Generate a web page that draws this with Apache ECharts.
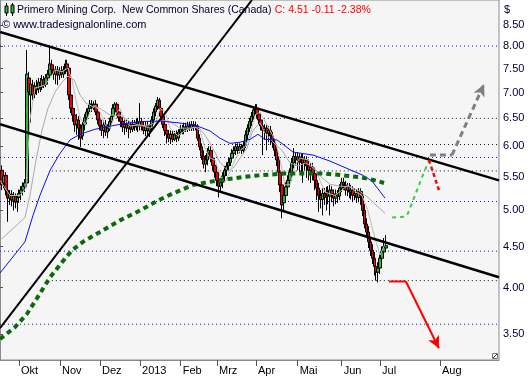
<!DOCTYPE html>
<html><head><meta charset="utf-8">
<script src="https://cdn.jsdelivr.net/npm/echarts@6/dist/echarts.min.js"></script>
<style>html,body{margin:0;padding:0;background:#fff}#c{width:529px;height:380px}</style>
</head><body><div id="c"></div>
<script>
// ---- data (prices in $) ----
const opens = [5.60,5.40,5.52,5.29,5.17,5.23,5.14,5.20,5.12,5.18,
5.24,5.29,5.34,5.40,7.30,6.95,7.15,6.97,7.13,7.07,
7.21,7.11,7.26,7.17,7.30,7.36,7.58,7.47,7.38,7.47,
7.36,7.45,7.38,7.47,7.60,7.51,6.95,6.69,6.56,6.39,
6.47,6.32,6.18,6.38,6.51,6.62,6.69,6.77,6.71,6.77,
6.62,6.47,6.36,6.28,6.38,6.25,6.32,6.44,6.54,6.69,
6.77,6.62,6.51,6.44,6.34,6.39,6.32,6.38,6.30,6.39,
6.34,6.42,6.36,6.44,6.36,6.28,6.36,6.27,6.32,6.47,
6.62,6.73,6.85,6.69,6.54,6.39,6.28,6.21,6.14,6.21,
6.12,6.20,6.14,6.25,6.30,6.27,6.34,6.30,6.36,6.32,
6.38,6.34,6.36,6.14,5.99,5.83,5.70,5.77,5.88,5.93,
5.80,5.68,5.57,5.44,5.35,5.41,5.51,5.60,5.67,5.73,
5.80,5.88,5.93,5.99,5.93,5.99,5.93,6.02,6.20,6.32,
6.44,6.54,6.66,6.69,6.58,6.47,6.36,6.28,6.32,6.23,
6.28,6.18,6.07,5.93,5.77,5.57,5.37,5.10,5.21,5.34,
5.44,5.57,5.72,5.82,5.77,5.82,5.73,5.80,5.72,5.77,
5.67,5.60,5.65,5.55,5.44,5.32,5.21,5.15,5.24,5.18,
5.26,5.20,5.29,5.23,5.17,5.23,5.20,5.32,5.41,5.37,
5.29,5.34,5.26,5.29,5.21,5.24,5.18,5.27,5.20,4.99,
4.80,4.69,4.56,4.45,4.35,4.25,4.18,4.23,4.35,4.43,
4.48];
const closes = [5.37,5.51,5.29,5.17,5.23,5.14,5.20,5.11,5.18,5.24,
5.29,5.35,5.40,7.38,7.01,7.17,6.95,7.13,7.05,7.21,
7.09,7.26,7.15,7.30,7.38,7.60,7.47,7.38,7.47,7.36,
7.45,7.38,7.47,7.60,7.51,6.95,6.69,6.56,6.38,6.47,
6.32,6.14,6.38,6.51,6.62,6.69,6.77,6.71,6.77,6.62,
6.47,6.36,6.28,6.38,6.25,6.32,6.44,6.54,6.69,6.77,
6.62,6.51,6.44,6.34,6.39,6.32,6.38,6.30,6.39,6.34,
6.42,6.36,6.44,6.36,6.28,6.36,6.27,6.32,6.47,6.62,
6.73,6.85,6.69,6.54,6.39,6.28,6.21,6.14,6.21,6.12,
6.20,6.14,6.25,6.30,6.27,6.34,6.30,6.36,6.32,6.38,
6.34,6.36,6.14,5.99,5.83,5.70,5.77,5.88,5.93,5.80,
5.68,5.57,5.44,5.35,5.41,5.51,5.60,5.67,5.73,5.80,
5.88,5.93,5.99,5.93,5.99,5.93,6.02,6.20,6.32,6.44,
6.54,6.66,6.69,6.58,6.47,6.36,6.28,6.32,6.23,6.28,
6.18,6.07,5.93,5.77,5.57,5.37,5.07,5.21,5.34,5.44,
5.57,5.72,5.83,5.77,5.82,5.73,5.80,5.72,5.77,5.67,
5.60,5.65,5.55,5.44,5.32,5.21,5.15,5.24,5.18,5.26,
5.20,5.29,5.23,5.17,5.23,5.20,5.32,5.41,5.37,5.29,
5.34,5.26,5.29,5.21,5.24,5.18,5.27,5.20,4.99,4.80,
4.69,4.56,4.45,4.35,4.25,4.18,4.23,4.35,4.43,4.50,
4.51];
const lows = [5.29,5.32,5.21,4.83,5.07,5.05,4.99,5.02,4.97,5.10,
5.14,5.21,5.26,5.35,6.89,6.42,6.85,6.89,6.95,6.99,
7.01,7.05,7.09,7.11,7.21,7.30,7.34,7.26,7.17,7.15,
7.26,7.30,7.30,7.38,7.43,6.85,6.60,6.44,6.25,6.20,
6.11,5.99,6.11,6.28,6.39,6.54,6.62,6.62,6.66,6.56,
6.39,6.28,6.18,6.14,6.18,6.14,6.27,6.39,6.47,6.62,
6.54,6.44,6.34,6.25,6.20,6.25,6.14,6.23,6.25,6.27,
6.28,6.25,6.28,6.28,6.21,6.18,6.20,6.16,6.25,6.39,
6.54,6.66,6.62,6.47,6.32,6.18,6.05,6.07,6.04,6.07,
6.09,6.07,6.09,6.20,6.21,6.21,6.25,6.25,6.27,6.27,
6.27,6.28,6.09,5.93,5.77,5.63,5.57,5.68,5.80,5.73,
5.60,5.48,5.35,5.18,5.26,5.32,5.41,5.51,5.60,5.67,
5.73,5.80,5.85,5.87,5.88,5.87,5.88,5.97,6.11,6.25,
6.36,6.47,6.58,6.51,6.39,6.28,5.85,6.11,5.93,6.07,
6.02,5.97,5.83,5.67,5.48,5.26,4.88,4.99,5.14,5.26,
5.35,5.51,5.63,5.67,5.60,5.57,5.52,5.40,5.60,5.48,
5.44,5.40,5.44,5.29,5.14,4.97,5.02,4.92,5.07,4.99,
5.08,4.92,5.11,5.05,5.08,5.10,5.14,5.26,5.29,5.21,
5.20,5.17,5.15,5.11,5.14,5.10,5.11,5.07,4.91,4.74,
4.61,4.48,4.38,4.28,4.14,4.08,4.06,4.16,4.30,4.35,
4.43];
const highs = [5.68,5.57,5.57,5.35,5.29,5.29,5.26,5.24,5.23,5.30,
5.35,5.41,5.46,7.91,7.43,7.26,7.26,7.21,7.26,7.30,
7.30,7.36,7.34,7.38,7.47,8.02,7.69,7.55,7.55,7.55,
7.53,7.55,7.55,7.69,7.69,7.55,7.01,6.77,6.66,6.58,
6.54,6.39,6.44,6.58,6.69,6.77,6.85,6.85,6.83,6.85,
6.69,6.54,6.44,6.47,6.47,6.39,6.51,6.60,6.77,6.81,
6.81,6.69,6.60,6.52,6.49,6.47,6.45,6.44,6.47,6.47,
6.49,6.51,6.79,6.51,6.45,6.44,6.44,6.39,6.54,6.69,
6.79,6.91,6.89,6.77,6.62,6.47,6.36,6.28,6.28,6.28,
6.27,6.28,6.30,6.38,6.38,6.42,6.42,6.44,6.44,6.45,
6.45,6.44,6.39,6.21,6.05,5.93,5.85,5.97,6.00,6.00,
5.87,5.77,5.67,5.51,5.48,5.57,5.67,5.73,5.80,5.87,
5.95,6.00,6.05,6.05,6.05,6.04,6.09,6.28,6.39,6.51,
6.62,6.73,6.77,6.77,6.66,6.54,6.44,6.39,6.39,6.36,
6.36,6.25,6.14,6.00,5.83,5.63,5.44,5.29,5.41,5.52,
5.63,5.80,5.97,5.90,5.90,5.88,5.87,5.87,5.83,5.83,
5.73,5.72,5.72,5.63,5.52,5.40,5.29,5.32,5.32,5.34,
5.35,5.37,5.35,5.30,5.30,5.29,5.38,5.48,5.48,5.43,
5.40,5.40,5.37,5.35,5.32,5.30,5.32,5.32,5.26,5.08,
4.88,4.77,4.63,4.53,4.43,4.30,4.30,4.40,4.50,4.61,
4.65];

// moving averages: [bar position, price]
const maFast = [[0,5.44],[5.2,5.21],[10.4,5.21],[13.5,5.32],[15.6,6.47],[18.2,7.09],[23.4,7.15],[26.1,7.30],[28.7,7.47],[32.3,7.43],[35.4,7.51],[37.5,7.26],[39.6,6.85],[41.7,6.51],[44.3,6.38],[46.9,6.62],[49.5,6.75],[52.1,6.62],[54.7,6.38],[57.3,6.32],[59.9,6.56],[62.5,6.69],[65.1,6.47],[67.7,6.36],[72.9,6.38],[78.2,6.32],[80.8,6.36],[83.4,6.69],[86.0,6.62],[88.6,6.32],[92.7,6.18],[96.4,6.28],[101.6,6.34],[104.2,6.28],[106.8,5.97],[109.4,5.80],[112.0,5.77],[114.6,5.52],[117.2,5.41],[119.8,5.57],[122.4,5.77],[125.1,5.93],[127.7,5.99],[130.3,6.20],[132.9,6.56],[135.5,6.62],[138.1,6.44],[140.7,6.28],[143.3,6.11],[145.9,5.77],[148.5,5.37],[151.1,5.37],[153.7,5.68],[156.3,5.80],[160.5,5.77],[164.1,5.63],[166.7,5.44],[169.3,5.26],[174.6,5.21],[178.2,5.29],[181.3,5.37],[185.5,5.26],[188.6,5.21],[191.7,4.99],[194.9,4.65],[198.0,4.39],[201.1,4.56]];
const maSlow = [[0,4.58],[13.0,4.89],[15.6,5.21],[18.8,5.77],[21.9,6.28],[25.0,6.69],[28.7,7.01],[32.3,7.21],[35.4,7.34],[38.6,7.26],[41.7,6.95],[44.8,6.79],[47.9,6.73],[52.1,6.69],[57.3,6.56],[62.5,6.56],[67.7,6.44],[72.9,6.36],[78.2,6.38],[83.4,6.47],[88.6,6.44],[93.8,6.32],[99.0,6.32],[103.2,6.34],[106.8,6.20],[110.5,5.99],[114.6,5.73],[118.8,5.59],[121.9,5.65],[125.1,5.80],[128.7,5.97],[131.8,6.28],[135.5,6.42],[138.1,6.23],[141.7,6.09],[146.9,5.93],[151.1,5.72],[155.3,5.67],[159.4,5.72],[163.6,5.63],[167.8,5.48],[171.9,5.38],[177.2,5.35],[182.4,5.34],[187.6,5.27],[191.7,5.18],[195.9,5.07],[200.6,4.95]];
const maBlue = [[0,4.17],[13.0,4.56],[17.2,4.92],[20.8,5.21],[26.1,5.60],[31.3,5.88],[36.5,6.11],[41.7,6.21],[49.5,6.30],[61.0,6.38],[72.9,6.44],[83.4,6.45],[92.2,6.42],[99.0,6.39],[104.2,6.34],[109.4,6.27],[114.6,6.14],[119.8,6.05],[125.1,6.07],[130.3,6.12],[134.4,6.21],[138.1,6.12],[144.3,6.11],[148.0,6.02],[152.7,5.90],[163.1,5.85],[171.9,5.75],[180.8,5.63],[189.1,5.52],[193.8,5.43],[198.0,5.27],[200.6,5.17]];
const maLong = [[0,3.45],[7.8,3.57],[14.1,3.71],[19.3,3.88],[26.1,4.12],[32.3,4.30],[37.5,4.45],[43.2,4.56],[52.1,4.69],[62.5,4.85],[72.9,4.99],[83.4,5.15],[90.1,5.24],[100.6,5.37],[113.6,5.44],[131.3,5.51],[148.5,5.55],[167.8,5.55],[178.7,5.52],[187.6,5.49],[195.4,5.44],[200.1,5.40]];

// trend lines and projections: [bar position, price]
const upperChannel = [[0,8.33],[260,5.44]];
const lowerChannel = [[0,6.39],[260,4.12]];
const steepLine = [[0,3.56],[131.3,9.13]];
const projGreen = [[204.3,4.89],[210.5,4.90],[212.1,4.92],[214.7,5.10],[217.3,5.29],[219.9,5.49],[222.5,5.68],[223.8,5.77]];
const projRed = [[223.5,5.77],[228.7,5.29]];
const projGrey = [[224.0,5.85],[235.5,5.85],[252.2,7.17]];
const projDown = [[202.7,4.07],[211.5,4.07],[228.7,3.36]];

// horizontal levels
const levels = [8.00, 6.50, 6.03, 5.81, 5.59, 5.12, 4.44, 4.08, 3.60];
const levelStart = [0, 27, 41.7, 0, 27, 0, 0, 27, 0];
const levelKind = ['b','k','k','b','k','b','b','k','b'];

// axis ticks
const yTicks = [3.5,4.0,4.5,5.0,5.5,6.0,6.5,7.0,7.5,8.0,8.5];
const monthLabels = ['Okt','Nov','Dez','2013','Feb','Mrz','Apr','Mai','Jun','Jul','Aug'];
const monthPos = [9.9,31.26,52.1,72.95,94.15,113.07,133.39,155.11,178.04,198.0,229.26];

const X_MAX = 260, P_MIN = 3.2487, P_MAX = 9.1297;
const L = Math.log;
const tr = arr => arr.map(p => [p[0], L(p[1])]);

const candleData = opens.map((o, i) => [i + 1, L(o), L(closes[i]), L(lows[i]), L(highs[i])]);

const series = [];
levels.forEach((lv, k) => {
  series.push({type:'line', data:[[levelStart[k], L(lv)], [X_MAX, L(lv)]], symbol:'none', silent:true, z:1,
    lineStyle:{color: levelKind[k]==='b' ? '#1515d8' : '#111', width:1, type:[1,3]}});
});
series.push({type:'candlestick', data:candleData, encode:{x:0, y:[1,2,3,4]}, barWidth:3, z:3,
  itemStyle:{color:'#2fb52f', color0:'#f00000', borderColor:'#000', borderColor0:'#000', borderWidth:1}});
const ln = (d, color, width, type, z) => ({type:'line', data:tr(d), symbol:'none', silent:true, z:z||4,
  lineStyle:{color, width, type: type||'solid'}});
series.push(ln(maSlow, '#a9a9a9', 1));
series.push(ln(maFast, '#bcbcbc', 1));
series.push(ln(maBlue, '#0a0aff', 1));
series.push(ln(maLong, '#0b6b0b', 4, [5,4], 5));
series.push(ln(upperChannel, '#000', 2.5, 'solid', 6));
series.push(ln(lowerChannel, '#000', 2.5, 'solid', 6));
series.push(ln(steepLine, '#000', 2, 'solid', 6));
series.push(ln(projGreen, '#3ccc3c', 2, [4,4], 7));
series.push(ln(projRed, '#ff0000', 2.5, [4,3], 7));
const arrowLine = (d, color, width, type) => ({
  type:'line', data:tr(d.slice(0, d.length - 1)), symbol:'none', silent:true, z:7,
  lineStyle:{color, width, type},
  markLine:{silent:true, symbol:['none','arrow'], symbolSize:[9,12], label:{show:false},
    lineStyle:{color, width, type}, emphasis:{disabled:true},
    data:[[{coord:[d[d.length-2][0], L(d[d.length-2][1])]},{coord:[d[d.length-1][0], L(d[d.length-1][1])]}]]}
});
series.push(arrowLine(projGrey, '#808080', 3, [6,4]));
series.push(arrowLine(projDown, '#ff0000', 2, 'solid'));

const chart = echarts.init(document.getElementById('c'), null, {renderer:'canvas'});
chart.setOption({
  animation:false,
  backgroundColor:'#ffffff',
  grid:{left:0, right:30, top:0, bottom:20, show:true, backgroundColor:'#f5f5f5', borderColor:'#8a8a8a', borderWidth:1, containLabel:false},
  xAxis:{type:'value', min:0, max:X_MAX, splitLine:{show:false},
    axisLine:{show:true, lineStyle:{color:'#8a8a8a'}},
    axisTick:{show:true, length:6, lineStyle:{color:'#555'}, customValues:monthPos},
    axisLabel:{customValues:monthPos, align:'left', margin:5, padding:[0,0,0,2], fontSize:11, fontFamily:'Liberation Sans', color:'#000',
      formatter:v => { let k = 0, best = 1e9; monthPos.forEach((m, j) => { const d = Math.abs(m - v); if (d < best) { best = d; k = j; } }); return monthLabels[k]; }}},
  yAxis:{type:'value', position:'right', min:L(P_MIN), max:L(P_MAX), splitLine:{show:false},
    axisLine:{show:true, lineStyle:{color:'#8a8a8a'}},
    axisTick:{show:true, length:3, lineStyle:{color:'#555'}, customValues:yTicks.map(L)},
    axisLabel:{customValues:yTicks.map(L), margin:4, fontSize:11, fontFamily:'Liberation Sans', color:'#00003a',
      formatter:v => Math.exp(v).toFixed(2)}},
  graphic:[
    {type:'line', shape:{x1:6.5,y1:3,x2:6.5,y2:16}, style:{stroke:'#000', lineWidth:1}, z:100},
    {type:'rect', shape:{x:5,y:6,width:3,height:7}, style:{fill:'#2fb52f', stroke:'#000', lineWidth:1}, z:101},
    {type:'line', shape:{x1:12.5,y1:3,x2:12.5,y2:16}, style:{stroke:'#000', lineWidth:1}, z:100},
    {type:'rect', shape:{x:11,y:5,width:3,height:8}, style:{fill:'#2fb52f', stroke:'#000', lineWidth:1}, z:101},
    {type:'text', left:17, top:4, z:100, style:{text:'{a|Primero Mining Corp.  New Common Shares (Canada)} {b|C: 4.51 -0.11 -2.38%}',
      rich:{a:{fontSize:10.5, fontFamily:'Liberation Sans', fill:'#000033'}, b:{fontSize:10.5, fontFamily:'Liberation Sans', fill:'#ff0000'}}}},
    {type:'text', left:2, top:19, z:100, style:{text:'© www.tradesignalonline.com', fontSize:11, fontFamily:'Liberation Sans', fill:'#000033'}},
    {type:'text', left:504, top:4, z:100, style:{text:'$', fontSize:11, fontFamily:'Liberation Sans', fill:'#00003a'}},
    {type:'rect', shape:{x:492.5,y:353.5,width:5,height:5}, style:{fill:'#fff', stroke:'#777', lineWidth:1}, z:100},
    {type:'line', shape:{x1:493,y1:358,x2:497,y2:354}, style:{stroke:'#333', lineWidth:1}, z:101}
  ],
  series
});
</script></body></html>
